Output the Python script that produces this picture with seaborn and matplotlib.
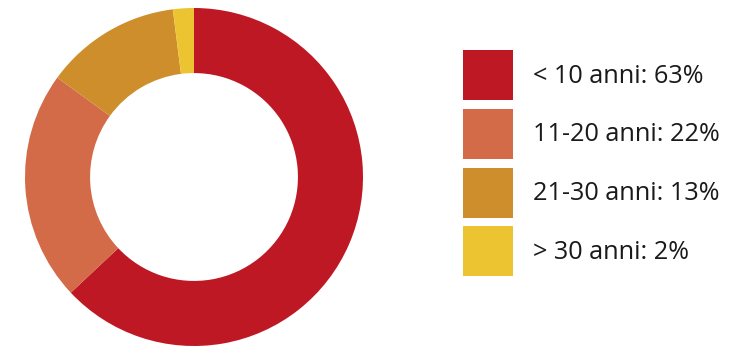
import matplotlib
matplotlib.use("Agg")
import os
import matplotlib.pyplot as plt
import seaborn as sns
from matplotlib.patches import Patch
from matplotlib import font_manager as fm

categories = ["< 10 anni", "11-20 anni", "21-30 anni", "> 30 anni"]
shares = [63, 22, 13, 2]
colors = ["#BE1824", "#D36A48", "#CF8E2C", "#ECC431"]

sns.set_theme(style="white")
plt.rcParams["font.family"] = ["DejaVu Sans"]


def regular_font(names):
    files = fm.findSystemFonts()
    for name in names:
        for f in files:
            if os.path.basename(f).lower() == name.lower():
                return fm.FontProperties(fname=f)
    return fm.FontProperties(family="DejaVu Sans")


label_font = regular_font(["Montserrat-Regular.ttf", "OpenSans-Regular.ttf",
                           "Lato-Regular.ttf"])

W, H = 735, 347
fig = plt.figure(figsize=(W / 100, H / 100), dpi=100)

cx, cy, r = 194, 177, 169
ax = fig.add_axes([(cx - r) / W, (H - cy - r) / H, 2 * r / W, 2 * r / H])
ax.pie(shares, colors=colors, startangle=90, counterclock=False,
       radius=1.0, wedgeprops=dict(width=0.385, linewidth=0))
ax.set_xlim(-1, 1)
ax.set_ylim(-1, 1)
ax.set_aspect("equal")
ax.axis("off")

handles = [Patch(facecolor=c, edgecolor="none") for c in colors]
labels = [f"{c}: {v}%" for c, v in zip(categories, shares)]
fs = 18.2
label_font.set_size(fs)
fig.legend(handles, labels, loc="upper left",
           bbox_to_anchor=(463 / W, 1 - 50 / H), frameon=False,
           prop=label_font,
           handlelength=36 / fs, handleheight=(36 / fs - 0.245) / 0.65,
           labelspacing=6.3 / fs, handletextpad=14.4 / fs, borderpad=0,
           borderaxespad=0, labelcolor="#1a1a1a")

fig.savefig("out.png", dpi=100)
